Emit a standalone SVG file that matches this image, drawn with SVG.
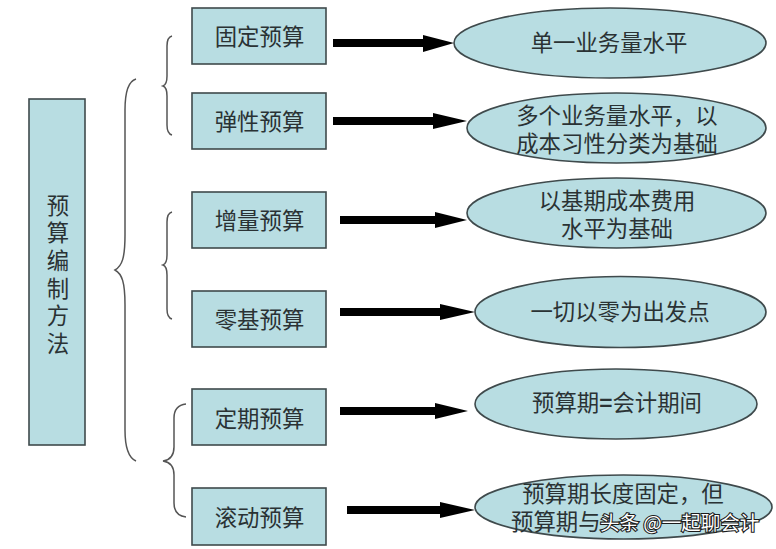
<svg xmlns="http://www.w3.org/2000/svg" width="776" height="549" viewBox="0 0 776 549">
<defs>
<style>
.n{fill:#b8dde2;stroke:#3f4a4c;stroke-width:1.6}
.t{font-family:"Noto Sans CJK SC","Liberation Sans",sans-serif;font-size:22.400px;fill:#2a3234;text-anchor:middle}
.v{writing-mode:vertical-rl;letter-spacing:5.200px}
.a{fill:none;stroke:#000;stroke-width:8}
.h{fill:#000}
.b{fill:none;stroke:#555;stroke-width:1.5}
.w{font-family:"Noto Sans CJK SC","Liberation Sans",sans-serif;font-size:19.500px;fill:#fff;stroke:#1c1c1c;stroke-width:2.200;paint-order:stroke}
</style>
</defs>
<rect width="776" height="549" fill="#fff"/>
<g id="connectors">
<path class="a" d="M333 43H425"/><path class="h" d="M423 35L454 43L423 52Z"/>
<path class="a" d="M333 121H435"/><path class="h" d="M433 113L467 121L433 129Z"/>
<path class="a" d="M340 220H437"/><path class="h" d="M435 212L467 220L435 228Z"/>
<path class="a" d="M340 312H442"/><path class="h" d="M440 304L475 312L440 320Z"/>
<path class="a" d="M340 411H437"/><path class="h" d="M435 403L468 411L435 419Z"/>
<path class="a" d="M347 510H442"/><path class="h" d="M440 502L475 510L440 518Z"/>
<path class="b" d="M172 36C168 37 167 40 167 46V76C167 82 166 85 163 86C166 87 167 90 167 96V125C167 131 168 134 172 135"/>
<path class="b" d="M136 79C129 81 125 90 125 110V235C125 258 122 266 115 270C122 274 125 282 125 305V430C125 450 129 458 136 461"/>
<path class="b" d="M172 212C168 213 167 216 167 222V255C167 261 166 264 163 265C166 266 167 269 167 275V309C167 315 168 318 172 319"/>
<path class="b" d="M186 404C178 405 174 409 174 418V447C174 455 170 460 163 461C170 462 174 467 174 475V503C174 512 178 516 186 517"/>
</g>
<g id="root"><rect class="n" x="29" y="99" width="56" height="346"/>
<text class="t v" x="58" y="277">预算编制方法</text></g>
<g id="box1"><rect class="n" x="192" y="8" width="134" height="56"/><text class="t" x="259.500" y="45">固定预算</text></g>
<g id="box2"><rect class="n" x="192" y="93" width="134" height="56"/><text class="t" x="259.500" y="130">弹性预算</text></g>
<g id="box3"><rect class="n" x="192" y="192" width="134" height="56"/><text class="t" x="259.500" y="229">增量预算</text></g>
<g id="box4"><rect class="n" x="192" y="291" width="134" height="56"/><text class="t" x="259.500" y="328">零基预算</text></g>
<g id="box5"><rect class="n" x="192" y="389" width="134" height="56"/><text class="t" x="259.500" y="427">定期预算</text></g>
<g id="box6"><rect class="n" x="192" y="488" width="134" height="57"/><text class="t" x="259.500" y="526">滚动预算</text></g>
<g id="ell1"><ellipse class="n" cx="610" cy="43" rx="156" ry="35"/><text class="t" x="609" y="51">单一业务量水平</text></g>
<g id="ell2"><ellipse class="n" cx="616.500" cy="128" rx="149.500" ry="35"/><text class="t" x="617" y="124">多个业务量水平，以</text><text class="t" x="617" y="152">成本习性分类为基础</text></g>
<g id="ell3"><ellipse class="n" cx="616.500" cy="213" rx="149.500" ry="35"/><text class="t" x="617" y="209">以基期成本费用</text><text class="t" x="617" y="237">水平为基础</text></g>
<g id="ell4"><ellipse class="n" cx="620.500" cy="312" rx="145.500" ry="35.500"/><text class="t" x="620" y="320">一切以零为出发点</text></g>
<g id="ell5"><ellipse class="n" cx="616" cy="404" rx="141" ry="35"/><text class="t" x="617" y="411">预算期<tspan font-weight="700">=</tspan>会计期间</text></g>
<g id="ell6"><ellipse class="n" cx="623.500" cy="507" rx="148.500" ry="32"/><text class="t" x="623" y="502">预算期长度固定，但</text><text class="t" x="511" y="530" style="text-anchor:start">预算期与</text></g>
<text class="w" x="600" y="530">头条 @一起聊会计</text>
</svg>
